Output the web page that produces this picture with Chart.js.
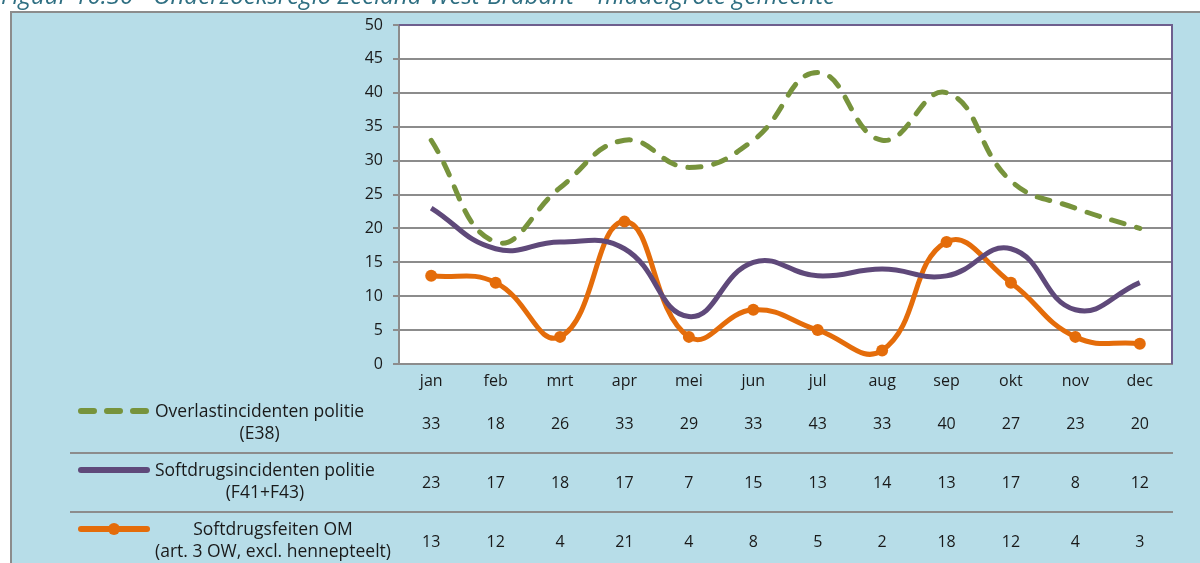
<!DOCTYPE html>
<html>
<head>
<meta charset="utf-8">
<script src="https://cdn.jsdelivr.net/npm/chart.js@4/dist/chart.umd.min.js"></script>
<style>
  html, body { margin: 0; padding: 0; background: #fff; }
  #wrap { width: 1200px; height: 563px; }
</style>
</head>
<body>
<div id="wrap"><canvas id="chart" width="1200" height="563"></canvas></div>
<script>
const months = ['jan', 'feb', 'mrt', 'apr', 'mei', 'jun', 'jul', 'aug', 'sep', 'okt', 'nov', 'dec'];
const overlast = [33, 18, 26, 33, 29, 33, 43, 33, 40, 27, 23, 20];
const softdrugsPolitie = [23, 17, 18, 17, 7, 15, 13, 14, 13, 17, 8, 12];
const softdrugsOM = [13, 12, 4, 21, 4, 8, 5, 2, 18, 12, 4, 3];
const seriesNames = [
  ['Overlastincidenten politie', '(E38)'],
  ['Softdrugsincidenten politie', '(F41+F43)'],
  ['Softdrugsfeiten OM', '(art. 3 OW, excl. hennepteelt)']
];
const title = 'Figuur 10.30 - Onderzoeksregio Zeeland-West-Brabant \u2013 middelgrote gemeente';

const FONT = '"Open Sans", "Noto Sans", sans-serif';
const GREEN = '#77933c', PURPLE = '#5f497a', ORANGE = '#e46c0a';
const GRID = '#8c8c8c';

// panel, title and white plot area
const background = {
  id: 'background',
  beforeDraw(chart) {
    const { ctx, chartArea: a } = chart;
    ctx.save();
    ctx.fillStyle = '#b7dde8';
    ctx.fillRect(10, 12, chart.width - 10, chart.height - 12);
    ctx.strokeStyle = GRID;
    ctx.lineWidth = 2;
    ctx.beginPath();
    ctx.moveTo(11, chart.height);
    ctx.lineTo(11, 12);
    ctx.lineTo(chart.width, 12);
    ctx.stroke();
    ctx.font = 'italic 24px ' + FONT;
    ctx.fillStyle = '#2f6f82';
    ctx.textBaseline = 'alphabetic';
    ctx.fillText(title, 1, 4);
    ctx.fillStyle = '#fff';
    ctx.fillRect(a.left, a.top, a.right - a.left, a.bottom - a.top);
    ctx.restore();
  },
  beforeDatasetsDraw(chart) {
    const { ctx, chartArea: a } = chart;
    ctx.save();
    ctx.strokeStyle = '#6e5f8e';
    ctx.lineWidth = 2;
    ctx.beginPath();
    ctx.moveTo(a.left, a.top);
    ctx.lineTo(a.right, a.top);
    ctx.lineTo(a.right, a.bottom);
    ctx.stroke();
    ctx.restore();
  }
};

// data table under the x axis
const dataTable = {
  id: 'dataTable',
  afterDraw(chart) {
    const { ctx } = chart;
    const x = chart.scales.x;
    const rowY = [424, 483, 542];
    ctx.save();
    ctx.fillStyle = '#1a1a1a';
    ctx.textAlign = 'center';
    ctx.textBaseline = 'middle';
    chart.data.datasets.forEach((ds, r) => {
      ctx.font = '16px ' + FONT;
      ds.data.forEach((v, i) => ctx.fillText(String(v), x.getPixelForValue(i), rowY[r]));

      // legend key
      const ky = rowY[r] - 13;
      ctx.save();
      ctx.strokeStyle = ds.borderColor;
      ctx.lineWidth = 6;
      ctx.lineCap = 'round';
      ctx.setLineDash(ds.borderDash ? [13, 13] : []);
      ctx.beginPath();
      ctx.moveTo(81, ky);
      ctx.lineTo(147, ky);
      ctx.stroke();
      if (ds.pointRadius > 0) {
        ctx.fillStyle = ds.borderColor;
        ctx.beginPath();
        ctx.arc(114, ky, 6, 0, Math.PI * 2);
        ctx.fill();
      }
      ctx.restore();

      // series name, two centred lines
      ctx.font = '17.5px ' + FONT;
      const lines = seriesNames[r];
      const w = Math.max(...lines.map(l => ctx.measureText(l).width));
      lines.forEach((l, j) => ctx.fillText(l, 155 + w / 2, ky + 1 + j * 22));
    });

    ctx.strokeStyle = GRID;
    ctx.lineWidth = 2;
    [453, 512].forEach(y => {
      ctx.beginPath();
      ctx.moveTo(70, y);
      ctx.lineTo(x.right + 1, y);
      ctx.stroke();
    });
    ctx.restore();
  }
};

new Chart(document.getElementById('chart'), {
  type: 'line',
  data: {
    labels: months,
    datasets: [
      {
        label: seriesNames[0].join(' '),
        data: overlast,
        borderColor: GREEN,
        borderWidth: 5,
        borderDash: [13, 13],
        borderCapStyle: 'round',
        pointRadius: 0,
        tension: 0.45
      },
      {
        label: seriesNames[1].join(' '),
        data: softdrugsPolitie,
        borderColor: PURPLE,
        borderWidth: 5,
        pointRadius: 0,
        tension: 0.45
      },
      {
        label: seriesNames[2].join(' '),
        data: softdrugsOM,
        borderColor: ORANGE,
        backgroundColor: ORANGE,
        borderWidth: 5,
        pointRadius: 6,
        pointBorderWidth: 0,
        tension: 0.45
      }
    ]
  },
  plugins: [background, dataTable],
  options: {
    responsive: false,
    animation: false,
    layout: { padding: { left: 330, right: 28, top: 25, bottom: 169 } },
    plugins: { legend: { display: false }, tooltip: { enabled: false } },
    scales: {
      x: {
        offset: true,
        grid: { display: false },
        border: { color: GRID, width: 2 },
        ticks: { color: '#1a1a1a', font: { family: FONT, size: 16 }, padding: 0 },
        afterFit: s => { s.height = 30; }
      },
      y: {
        min: 0,
        max: 50,
        ticks: { stepSize: 5, color: '#1a1a1a', font: { family: FONT, size: 16 }, padding: 10 },
        grid: { color: GRID, lineWidth: 2, tickLength: 6 },
        border: { color: GRID, width: 2 },
        afterFit: s => { s.width = 69; }
      }
    }
  }
});
</script>
</body>
</html>
